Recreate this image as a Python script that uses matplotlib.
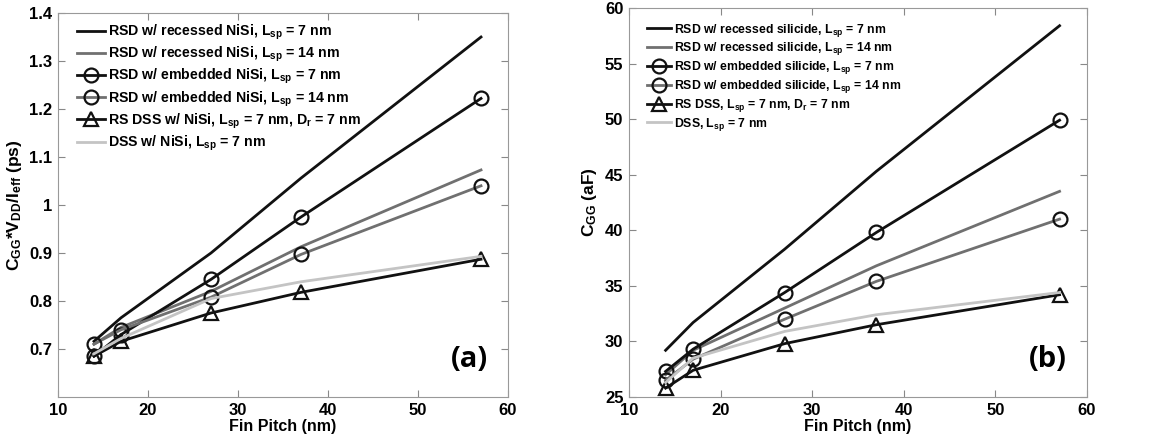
import matplotlib
matplotlib.use("Agg")
import matplotlib.pyplot as plt

plt.rcParams['font.family'] = ['Liberation Sans', 'DejaVu Sans']
plt.rcParams['font.weight'] = 'bold'
plt.rcParams['axes.labelweight'] = 'bold'
plt.rcParams['mathtext.default'] = 'regular'

# fin pitch (nm)
pitch = [14, 17, 27, 37, 57]

# (a) intrinsic delay C_GG*V_DD/I_eff (ps)
delay_rec7 = [0.716, 0.765, 0.900, 1.056, 1.350]
delay_rec14 = [0.710, 0.745, 0.820, 0.913, 1.073]
delay_emb7 = [0.685, 0.730, 0.845, 0.975, 1.222]
delay_emb14 = [0.710, 0.740, 0.808, 0.897, 1.040]
delay_rsdss = [0.685, 0.716, 0.775, 0.818, 0.887]
delay_dss = [0.690, 0.722, 0.805, 0.840, 0.893]

# (b) gate capacitance C_GG (aF)
cgg_rec7 = [29.2, 31.7, 38.3, 45.3, 58.4]
cgg_rec14 = [27.0, 29.2, 33.0, 36.8, 43.5]
cgg_emb7 = [27.3, 29.3, 34.4, 39.8, 49.9]
cgg_emb14 = [26.5, 28.4, 32.0, 35.4, 41.0]
cgg_rsdss = [25.8, 27.4, 29.8, 31.5, 34.2]
cgg_dss = [26.3, 28.5, 30.9, 32.4, 34.4]

labels_a = [
    'RSD w/ recessed NiSi, L$_{sp}$ = 7 nm',
    'RSD w/ recessed NiSi, L$_{sp}$ = 14 nm',
    'RSD w/ embedded NiSi, L$_{sp}$ = 7 nm',
    'RSD w/ embedded NiSi, L$_{sp}$ = 14 nm',
    'RS DSS w/ NiSi, L$_{sp}$ = 7 nm, D$_{r}$ = 7 nm',
    'DSS w/ NiSi, L$_{sp}$ = 7 nm',
]
labels_b = [
    'RSD w/ recessed silicide, L$_{sp}$ = 7 nm',
    'RSD w/ recessed silicide, L$_{sp}$ = 14 nm',
    'RSD w/ embedded silicide, L$_{sp}$ = 7 nm',
    'RSD w/ embedded silicide, L$_{sp}$ = 14 nm',
    'RS DSS, L$_{sp}$ = 7 nm, D$_{r}$ = 7 nm',
    'DSS, L$_{sp}$ = 7 nm',
]

BLACK = '#111111'
GRAY = '#707070'
LIGHT = '#c4c4c4'
styles = [
    dict(color=BLACK, marker=None),
    dict(color=GRAY, marker=None),
    dict(color=BLACK, marker='o'),
    dict(color=GRAY, marker='o'),
    dict(color=BLACK, marker='^'),
    dict(color=LIGHT, marker=None),
]

fig = plt.figure(figsize=(11.53, 4.41), dpi=100)
ax1 = fig.add_axes([0.0503, 0.0998, 0.3903, 0.8707])
ax2 = fig.add_axes([0.5455, 0.0998, 0.3973, 0.8822])


def draw(ax, series, labels, ylim, yticks, yticklabels, ylabel, tag,
         lfs, lsp, ly):
    for ys, lab, st in zip(series, labels, styles):
        ax.plot(pitch, ys, color=st['color'], lw=2, marker=st['marker'],
                markersize=10, markerfacecolor='none',
                markeredgecolor=BLACK, markeredgewidth=1.6, label=lab)
    ax.set_xlim(10, 60)
    ax.set_ylim(*ylim)
    ax.set_xticks([10, 20, 30, 40, 50, 60])
    ax.set_yticks(yticks)
    ax.set_yticklabels(yticklabels)
    ax.tick_params(direction='in', top=True, right=True, labelsize=12,
                   color='#888888', length=5, pad=4)
    for s in ax.spines.values():
        s.set_color('#999999')
    ax.set_xlabel('Fin Pitch (nm)', fontsize=11.5, labelpad=1)
    ax.set_ylabel(ylabel, fontsize=12.5, labelpad=4)
    ax.legend(loc='upper left', frameon=False, fontsize=lfs,
              handlelength=2.0, handletextpad=0.2, labelspacing=lsp,
              borderaxespad=0.3, bbox_to_anchor=(0.02, ly))
    ax.text(0.955, 0.06, tag, transform=ax.transAxes, ha='right', va='bottom',
            fontsize=21, fontweight='bold', family=['Open Sans', 'DejaVu Sans'])


draw(ax1, [delay_rec7, delay_rec14, delay_emb7, delay_emb14, delay_rsdss, delay_dss],
     labels_a, (0.6, 1.4), [0.7, 0.8, 0.9, 1.0, 1.1, 1.2, 1.3, 1.4],
     ['0.7', '0.8', '0.9', '1', '1.1', '1.2', '1.3', '1.4'],
     'C$_{GG}$*V$_{DD}$/I$_{eff}$ (ps)', '(a)', 10.2, 0.2, 1.0)
draw(ax2, [cgg_rec7, cgg_rec14, cgg_emb7, cgg_emb14, cgg_rsdss, cgg_dss],
     labels_b, (25, 60), [25, 30, 35, 40, 45, 50, 55, 60],
     ['25', '30', '35', '40', '45', '50', '55', '60'],
     'C$_{GG}$ (aF)', '(b)', 8.8, 0.15, 0.987)

fig.savefig('out.png', dpi=100)
